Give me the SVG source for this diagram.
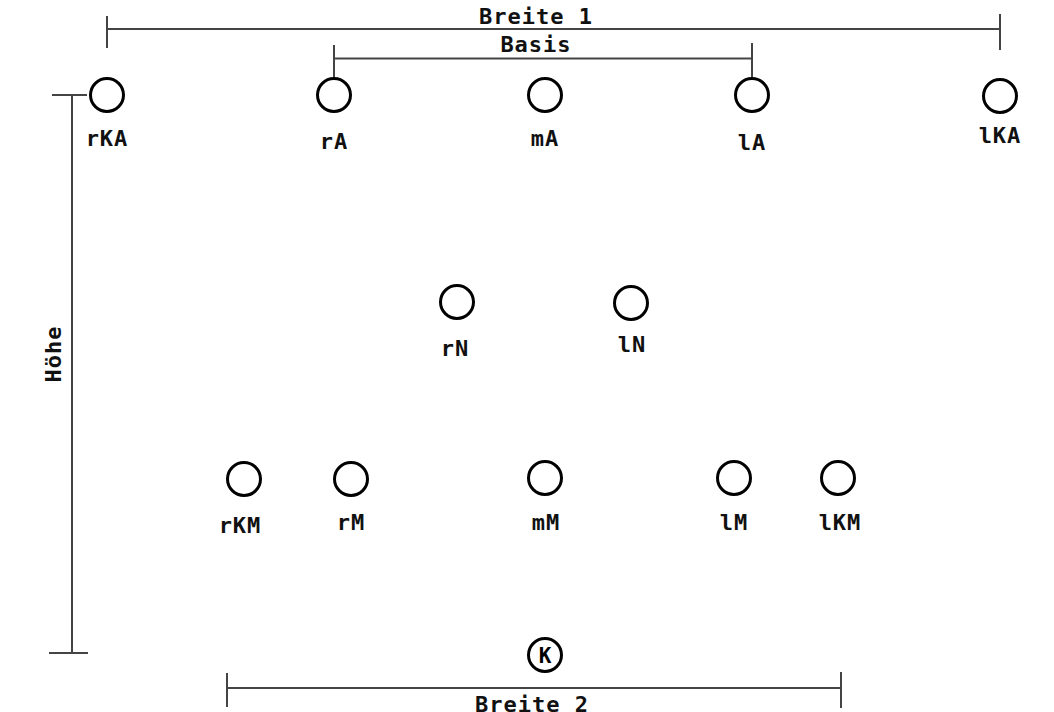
<svg xmlns="http://www.w3.org/2000/svg" width="1054" height="712" viewBox="0 0 1054 712">
  <style>
    .pos circle { fill: #fff; stroke: #000; stroke-width: 3; }
    .lbl { font-family: "DejaVu Sans Mono", "Liberation Mono", monospace; font-weight: bold; font-size: 22px; letter-spacing: 1px; fill: #111; text-anchor: middle; }
    .dim line { stroke: #444; stroke-width: 2; fill: none; }
    .k { font-family: "DejaVu Sans Mono", "Liberation Mono", monospace; font-weight: bold; font-size: 21px; fill: #000; text-anchor: middle; }
  </style>

  <rect width="1054" height="712" fill="#fff"/>

  <!-- dimension lines -->
  <g id="dimensions" class="dim">
    <!-- Breite 1 -->
    <line x1="107" y1="29" x2="1000" y2="29"/>
    <line x1="107" y1="16" x2="107" y2="48"/>
    <line x1="1000" y1="14" x2="1000" y2="50"/>
    <!-- Basis -->
    <line x1="334" y1="58.5" x2="752" y2="58.5"/>
    <line x1="334" y1="45" x2="334" y2="78"/>
    <line x1="752" y1="43" x2="752" y2="78"/>
    <!-- Höhe -->
    <line x1="72" y1="95" x2="72" y2="653"/>
    <line x1="52" y1="95" x2="87" y2="95"/>
    <line x1="49" y1="653" x2="88" y2="653"/>
    <!-- Breite 2 -->
    <line x1="227" y1="688" x2="841" y2="688"/>
    <line x1="227" y1="673" x2="227" y2="707"/>
    <line x1="841" y1="672" x2="841" y2="708"/>
  </g>

  <g id="dimension-labels">
    <text class="lbl" x="536" y="24">Breite 1</text>
    <text class="lbl" x="536" y="52">Basis</text>
    <text class="lbl" x="532" y="712">Breite 2</text>
    <text class="lbl" transform="translate(61 354) rotate(-90)">Höhe</text>
  </g>

  <!-- top row -->
  <g id="rKA" class="pos"><circle cx="107" cy="95" r="16.5"/><text class="lbl" x="107" y="146">rKA</text></g>
  <g id="rA" class="pos"><circle cx="334" cy="95" r="16.5"/><text class="lbl" x="334" y="149">rA</text></g>
  <g id="mA" class="pos"><circle cx="545" cy="95" r="16.5"/><text class="lbl" x="545" y="146">mA</text></g>
  <g id="lA" class="pos"><circle cx="752" cy="95" r="16.5"/><text class="lbl" x="752" y="150">lA</text></g>
  <g id="lKA" class="pos"><circle cx="1000" cy="96" r="16.5"/><text class="lbl" x="1000" y="143">lKA</text></g>

  <!-- middle row -->
  <g id="rN" class="pos"><circle cx="457" cy="302" r="16.5"/><text class="lbl" x="455" y="356">rN</text></g>
  <g id="lN" class="pos"><circle cx="631" cy="303" r="16.5"/><text class="lbl" x="632" y="352">lN</text></g>

  <!-- bottom row -->
  <g id="rKM" class="pos"><circle cx="244" cy="479" r="16.5"/><text class="lbl" x="240" y="533">rKM</text></g>
  <g id="rM" class="pos"><circle cx="351" cy="479" r="16.5"/><text class="lbl" x="351" y="530">rM</text></g>
  <g id="mM" class="pos"><circle cx="545" cy="478" r="16.5"/><text class="lbl" x="546" y="530">mM</text></g>
  <g id="lM" class="pos"><circle cx="734" cy="478" r="16.5"/><text class="lbl" x="734" y="530">lM</text></g>
  <g id="lKM" class="pos"><circle cx="838" cy="478" r="16.5"/><text class="lbl" x="840" y="530">lKM</text></g>

  <!-- K -->
  <g id="K" class="pos"><circle cx="545" cy="655" r="16.5"/><text class="k" x="545" y="662.5">K</text></g>
</svg>
